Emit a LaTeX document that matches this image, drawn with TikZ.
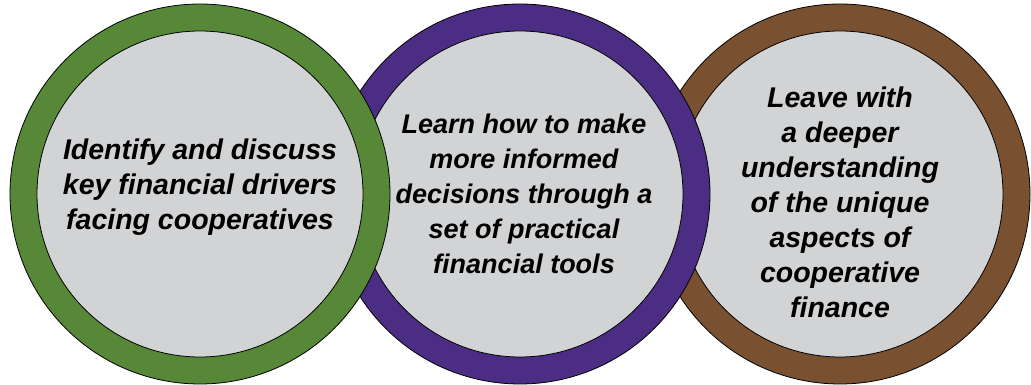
\documentclass[tikz,border=0pt]{standalone}
\usepackage{fontspec}
\setmainfont{Liberation Sans}
\usepackage{tikz}
\usetikzlibrary{positioning}
\definecolor{coopgreen}{RGB}{86,136,56}
\definecolor{coopviolet}{RGB}{75,46,131}
\definecolor{coopbrown}{RGB}{122,81,48}
\definecolor{coopgray}{RGB}{210,211,213}

\begin{document}
\begin{tikzpicture}[x=1pt,y=1pt,node distance=320pt,line width=0.8pt]
\tikzstyle{ring}=[circle,draw=black,minimum size=380pt,inner sep=0pt]
\tikzstyle{face}=[circle,draw=black,fill=coopgray,minimum size=326pt,inner sep=0pt]
\tikzstyle{goal}[28.5]=[align=center,text=black,font=\bfseries\itshape\fontsize{#1}{35}\selectfont]
\useasboundingbox (0,0) rectangle (1031,385);

\node[ring,fill=coopbrown] (C) at (840,191) {};
\node[face] (Cin) at (C) {};
\node[goal] (Ctxt) at ([yshift=-8pt]C) {Leave with\\a deeper\\understanding\\of the unique\\aspects of\\cooperative\\finance};

\node[ring,fill=coopviolet] (B) [left of=C] {};
\node[face] (Bin) at (B) {};
\node[goal=27] (Btxt) at ([xshift=4pt]B) {Learn how to make\\more informed\\decisions through a\\set of practical\\financial tools};

\node[ring,fill=coopgreen] (A) [left of=B] {};
\node[face] (Ain) at (A) {};
\node[goal] (Atxt) at ([yshift=7pt]A) {Identify and discuss\\key financial drivers\\facing cooperatives};
\end{tikzpicture}
\end{document}
